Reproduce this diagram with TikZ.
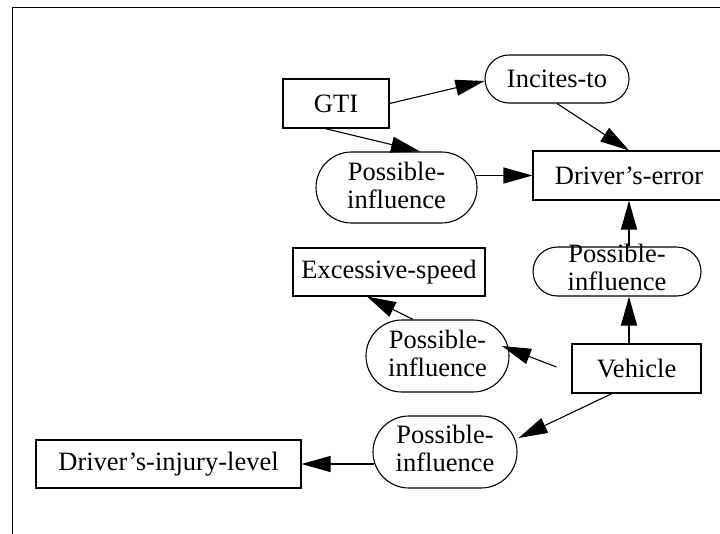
\documentclass[tikz,border=0pt]{standalone}
\usepackage{fontspec}
\setmainfont{Liberation Serif}
\usetikzlibrary{arrows.meta,shapes.misc,calc}
\tikzset{
  boxnode/.style={draw, line width=1.1pt, rectangle, inner sep=0pt, font=\fontsize{26.5}{28}\selectfont},
  pillnode/.style={draw, line width=1.1pt, rounded rectangle, inner sep=0pt},
  txt/.style={inner sep=0pt, align=center, font=\fontsize{26.5}{28}\selectfont},
  arr/.style={line width=1.1pt, -{Triangle[length=29pt,width=16pt]}},
}
\begin{document}
\begin{tikzpicture}[x=1pt,y=-1pt]
\useasboundingbox (0,0) rectangle (720,533);
% frame
\draw[line width=1pt] (12.5,560) -- (12.5,7.5) -- (740,7.5);
% rectangles
\node[boxnode, minimum width=106pt, minimum height=49pt] (GTI) at (336,103.5) {GTI};
\node[boxnode, minimum width=192pt, minimum height=49pt] (DE) at (629,175.5) {Driver’s-error};
\node[boxnode, minimum width=192pt, minimum height=48pt] (ES) at (389,272) {Excessive-speed};
\node[boxnode, minimum width=129pt, minimum height=49pt] (Veh) at (636.5,368.5) {Vehicle};
\node[boxnode, minimum width=265pt, minimum height=48pt] (DIL) at (168.5,464) {Driver’s-injury-level};
% pills
\node[pillnode, minimum width=144pt, minimum height=48pt] (Inc) at (557,79) {};
\node[txt] (Inct) at (Inc) {Incites-to};
\node[pillnode, minimum width=161pt, minimum height=71pt] (PI1) at (396.5,187.5) {};
\node[txt] (PI1t) at ($(PI1)+(0,-2.5)$) {Possible-\\influence};
\node[pillnode, minimum width=168pt, minimum height=49pt] (PI2) at (617,271.5) {};
\node[txt] (PI2t) at ($(PI2)+(0,-4.5)$) {Possible-\\influence};
\node[pillnode, minimum width=143pt, minimum height=72pt] (PI3) at (437.5,356) {};
\node[txt] (PI3t) at ($(PI3)+(0,-2.5)$) {Possible-\\influence};
\node[pillnode, minimum width=144pt, minimum height=72pt] (PI4) at (445,452) {};
\node[txt] (PI4t) at ($(PI4)+(0,-4)$) {Possible-\\influence};
% edges
\draw[arr] (GTI.east) -- ($(Inc.west)+(0,2)$);
\draw[arr] ($(GTI.south)+(-11,0)$) -- ($(PI1.north)+(23.5,0)$);
\draw[arr] (Inc.south) -- (DE.north);
\draw[arr] ($(PI1.east |- DE.west)+(-2,0)$) -- (DE.west);
\draw[arr] (PI2.north -| DE.south) -- (DE.south);
\draw[arr] (Veh.north -| DE.south) -- (PI2.south -| DE.south);
\draw[arr] ($(Veh.west)+(-15,-1.5)$) -- ($(PI3.center)+(64.5,-10)$);
\draw[arr] ($(PI3.north)+(-24.5,0)$) -- ($(ES.south)+(-22,0)$);
\draw[arr] ($(Veh.south)+(-24.5,0)$) -- ($(PI4.east)+(1,-14)$);
\draw[arr] ($(PI4.west |- DIL.east)+(2,0)$) -- (DIL.east);
\end{tikzpicture}
\end{document}
